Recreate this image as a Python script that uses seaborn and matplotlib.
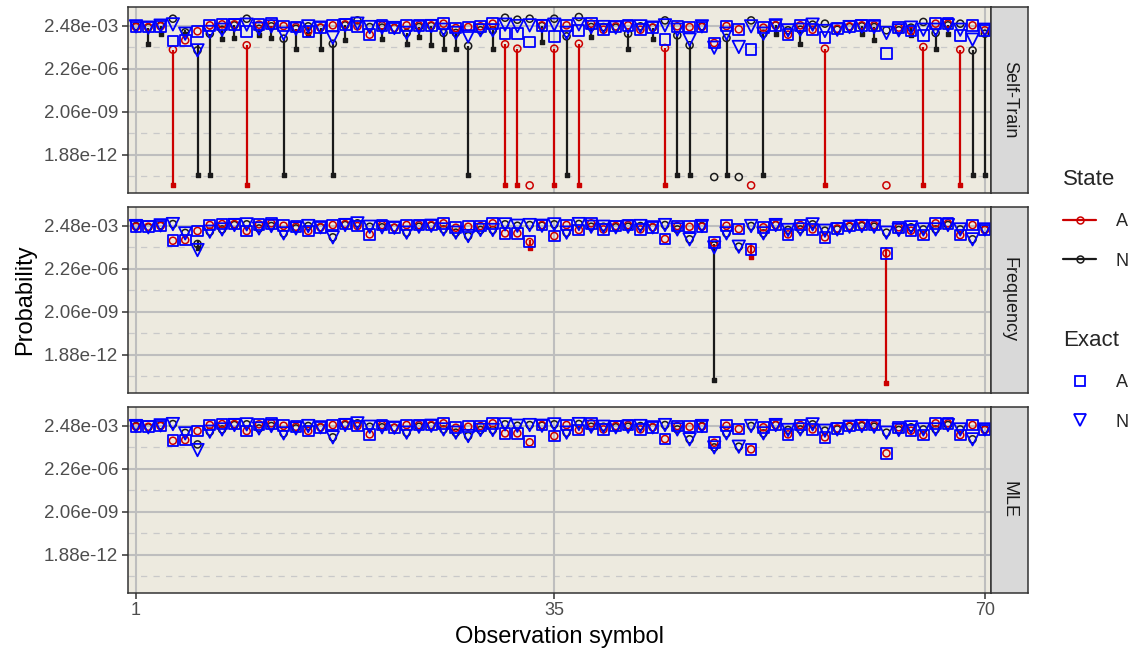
import numpy as np
import pandas as pd
import matplotlib
matplotlib.use("Agg")
import matplotlib.pyplot as plt
from matplotlib.lines import Line2D
from matplotlib.ticker import FixedLocator, NullFormatter
import seaborn as sns

# ---------------------------------------------------------------------------
# Data: log10 probabilities for each observation symbol (1..70)
# ---------------------------------------------------------------------------
obs = list(range(1, 71))

exact_A = [
    -2.68, -2.68, -2.63, -3.67, -3.62, -2.98, -2.56, -2.49, -2.49, -2.98,
    -2.51, -2.44, -2.61, -2.68, -2.98, -2.72, -2.56, -2.49, -2.63, -3.22,
    -2.56, -2.75, -2.56, -2.56, -2.56, -2.44, -2.75, -2.68, -2.63, -2.44,
    -3.15, -3.15, -3.74, -2.56, -3.34, -2.56, -2.91, -2.44, -2.87, -2.63,
    -2.56, -2.87, -2.72, -3.55, -2.63, -2.68, -2.68, -3.81, -2.61, -2.84,
    -4.28, -2.72, -2.56, -3.22, -2.56, -2.87, -3.43, -2.80, -2.63, -2.56,
    -2.56, -4.56, -2.72, -2.96, -3.27, -2.44, -2.44, -3.27, -2.56, -2.91]

exact_N = [
    -2.63, -2.72, -2.58, -2.49, -3.15, -4.33, -3.03, -2.87, -2.56, -2.51,
    -2.80, -2.63, -3.15, -2.80, -2.63, -2.72, -3.43, -2.56, -2.44, -2.68,
    -2.72, -2.75, -3.10, -2.68, -2.61, -2.87, -3.10, -3.34, -2.91, -2.91,
    -2.51, -2.61, -2.56, -2.61, -2.51, -3.10, -2.49, -2.68, -2.68, -2.72,
    -2.68, -2.63, -2.72, -2.56, -2.87, -3.57, -2.63, -4.14, -3.15, -4.09,
    -2.63, -3.15, -2.56, -2.91, -2.87, -2.51, -2.96, -2.87, -2.68, -2.63,
    -2.68, -3.10, -2.91, -2.72, -2.87, -2.87, -2.56, -2.87, -3.57, -2.87]

selftrain_A = [
    -2.68, -2.68, -2.63, -4.28, -3.62, -2.98, -2.56, -2.49, -2.49, -3.97,
    -2.51, -2.44, -2.61, -2.68, -2.98, -2.72, -2.56, -2.49, -2.63, -3.22,
    -2.56, -2.75, -2.56, -2.56, -2.56, -2.44, -2.75, -2.68, -2.63, -2.44,
    -3.90, -4.21, -13.88, -2.56, -4.21, -2.56, -3.86, -2.44, -2.87, -2.63,
    -2.56, -2.87, -2.72, -4.16, -2.63, -2.68, -2.68, -3.81, -2.61, -2.84,
    -13.88, -2.72, -2.56, -3.22, -2.56, -2.87, -4.21, -2.80, -2.63, -2.56,
    -2.56, -13.88, -2.72, -2.96, -4.09, -2.44, -2.44, -4.28, -2.56, -2.91]

selftrain_N = [
    -2.63, -2.72, -2.58, -2.09, -3.05, -4.33, -3.15, -2.87, -2.56, -2.09,
    -2.80, -2.63, -3.50, -2.80, -2.63, -2.72, -3.86, -2.56, -2.21, -2.68,
    -2.72, -2.75, -3.10, -2.68, -2.61, -3.10, -3.10, -4.02, -2.91, -2.91,
    -2.02, -2.16, -2.09, -2.61, -2.09, -3.34, -1.97, -2.68, -2.68, -2.72,
    -3.15, -2.63, -2.72, -2.21, -3.27, -3.97, -2.63, -13.29, -3.45, -13.29,
    -2.21, -3.15, -2.56, -2.91, -2.87, -2.51, -2.44, -2.87, -2.68, -2.63,
    -2.68, -2.91, -2.91, -2.72, -2.32, -3.10, -2.56, -2.44, -4.33, -3.15]

frequency_A = [
    -2.68, -2.68, -2.63, -3.67, -3.62, -2.98, -2.56, -2.49, -2.49, -2.98,
    -2.51, -2.44, -2.61, -2.68, -2.98, -2.72, -2.56, -2.49, -2.63, -3.22,
    -2.56, -2.75, -2.56, -2.56, -2.56, -2.44, -2.75, -2.68, -2.63, -2.44,
    -3.15, -3.15, -3.76, -2.56, -3.34, -2.56, -2.91, -2.44, -2.87, -2.63,
    -2.56, -2.87, -2.72, -3.55, -2.63, -2.68, -2.68, -3.81, -2.61, -2.84,
    -4.28, -2.72, -2.56, -3.22, -2.56, -2.87, -3.43, -2.80, -2.63, -2.56,
    -2.56, -4.56, -2.72, -2.96, -3.27, -2.44, -2.44, -3.27, -2.56, -2.91]

frequency_N = [
    -2.63, -2.72, -2.58, -2.49, -3.12, -3.90, -3.03, -2.87, -2.56, -2.51,
    -2.80, -2.63, -3.15, -2.80, -2.63, -2.72, -3.43, -2.56, -2.44, -2.68,
    -2.72, -2.75, -3.10, -2.68, -2.61, -2.87, -3.10, -3.34, -2.91, -2.91,
    -2.51, -2.61, -2.56, -2.61, -2.51, -3.10, -2.49, -2.68, -2.68, -2.72,
    -2.68, -2.63, -2.72, -2.56, -2.87, -3.57, -2.63, -4.00, -3.15, -4.09,
    -2.63, -3.15, -2.56, -2.91, -2.87, -2.51, -2.96, -2.87, -2.68, -2.63,
    -2.68, -3.10, -2.91, -2.72, -2.87, -2.87, -2.56, -2.87, -3.57, -2.87]

mle_A = [
    -2.68, -2.68, -2.63, -3.67, -3.62, -2.98, -2.56, -2.49, -2.49, -2.98,
    -2.51, -2.44, -2.61, -2.68, -2.98, -2.72, -2.56, -2.49, -2.63, -3.22,
    -2.56, -2.75, -2.56, -2.56, -2.56, -2.44, -2.75, -2.68, -2.63, -2.44,
    -3.15, -3.15, -3.78, -2.56, -3.34, -2.56, -2.91, -2.44, -2.87, -2.63,
    -2.56, -2.87, -2.72, -3.55, -2.63, -2.68, -2.68, -3.81, -2.61, -2.84,
    -4.28, -2.72, -2.56, -3.22, -2.56, -2.87, -3.43, -2.80, -2.63, -2.56,
    -2.56, -4.56, -2.72, -2.96, -3.27, -2.44, -2.44, -3.27, -2.56, -2.91]

mle_N = [
    -2.63, -2.72, -2.58, -2.49, -3.12, -3.93, -3.03, -2.87, -2.56, -2.51,
    -2.80, -2.63, -3.15, -2.80, -2.63, -2.72, -3.43, -2.56, -2.44, -2.68,
    -2.72, -2.75, -3.10, -2.68, -2.61, -2.87, -3.10, -3.34, -2.91, -2.91,
    -2.51, -2.61, -2.56, -2.61, -2.51, -3.10, -2.49, -2.68, -2.68, -2.72,
    -2.68, -2.63, -2.72, -2.56, -2.87, -3.57, -2.63, -4.14, -3.15, -4.09,
    -2.63, -3.15, -2.56, -2.91, -2.87, -2.51, -2.96, -2.87, -2.68, -2.63,
    -2.68, -3.10, -2.91, -2.72, -2.87, -2.87, -2.56, -2.87, -3.57, -2.87]

# Interval bounds (log10 low, log10 high) where they extend past the point
selftrain_A_ci = {
    4: (-13.88, -4.28), 10: (-13.88, -3.97), 31: (-13.88, -3.90),
    32: (-13.88, -4.21), 35: (-13.88, -4.21), 37: (-13.88, -3.86),
    44: (-13.88, -4.16), 57: (-13.88, -4.21), 65: (-13.88, -4.09),
    68: (-13.88, -4.28)}
selftrain_N_ci = {
    2: (-3.86, -2.72), 3: (-3.15, -2.58), 5: (-3.15, -2.90),
    6: (-13.17, -3.86), 7: (-13.17, -3.15), 8: (-3.50, -2.87),
    9: (-3.43, -2.56), 11: (-3.27, -2.80), 12: (-3.43, -2.63),
    13: (-13.17, -3.50), 14: (-4.21, -2.80), 15: (-3.15, -2.63),
    16: (-4.21, -2.72), 17: (-13.17, -3.86), 18: (-3.62, -2.56),
    21: (-3.50, -2.72), 23: (-3.90, -3.10), 24: (-3.38, -2.68),
    25: (-3.93, -2.61), 26: (-4.21, -3.10), 27: (-4.21, -3.10),
    28: (-13.17, -4.02), 30: (-4.21, -2.91), 34: (-3.74, -2.61),
    36: (-13.17, -3.34), 38: (-3.38, -2.68), 41: (-4.21, -3.15),
    43: (-3.50, -2.72), 45: (-13.17, -3.27), 46: (-13.17, -3.97),
    49: (-13.17, -3.45), 52: (-13.17, -3.15), 53: (-3.15, -2.56),
    55: (-3.86, -2.87), 60: (-3.15, -2.63), 61: (-3.57, -2.68),
    64: (-3.27, -2.72), 66: (-4.21, -3.10), 67: (-3.15, -2.56),
    69: (-13.17, -4.33), 70: (-13.17, -3.15)}
frequency_A_ci = {33: (-4.21, -3.65), 51: (-4.80, -3.86), 62: (-13.70, -4.09)}
frequency_N_ci = {6: (-4.21, -3.62), 48: (-13.50, -3.90)}
mle_A_ci = {}
mle_N_ci = {}

methods = ["Self-Train", "Frequency", "MLE"]
y_tick_values = [2.48e-03, 2.26e-06, 2.06e-09, 1.88e-12]
y_tick_labels = ["2.48e-03", "2.26e-06", "2.06e-09", "1.88e-12"]
x_tick_values = [1, 35, 70]

# ---------------------------------------------------------------------------
# Styling
# ---------------------------------------------------------------------------
sns.set_theme(style="ticks")
plt.rcParams["font.family"] = ["Liberation Sans", "DejaVu Sans"]

RED = "#CC0000"
BLACK = "#1A1A1A"
BLUE = "#0000FF"
PANEL_BG = "#EDEADF"
GRID = "#BEBEBE"
STRIP_BG = "#D9D9D9"
FRAME = "#333333"

W, H = 1136, 656
fig = plt.figure(figsize=(W / 100, H / 100), dpi=100)


def px_rect(x0, y0, x1, y1):
    return [x0 / W, 1 - y1 / H, (x1 - x0) / W, (y1 - y0) / H]


panel_rows = [(7, 193), (206.7, 392.7), (406.7, 592.7)]
x_left, x_right = 128, 991
strip_right = 1028

ratio = np.sqrt(y_tick_values[0] / y_tick_values[1])
minor_vals = [v / ratio for v in y_tick_values]

panel_data = {
    "Self-Train": (selftrain_A, selftrain_N, selftrain_A_ci, selftrain_N_ci),
    "Frequency": (frequency_A, frequency_N, frequency_A_ci, frequency_N_ci),
    "MLE": (mle_A, mle_N, mle_A_ci, mle_N_ci),
}

exact_df = pd.DataFrame({"obs": obs,
                         "A": np.power(10.0, exact_A),
                         "N": np.power(10.0, exact_N)})

axes = []
for i, (method, (top, bot)) in enumerate(zip(methods, panel_rows)):
    ax = fig.add_axes(px_rect(x_left, top, x_right, bot))
    axes.append(ax)
    ax.set_facecolor(PANEL_BG)
    ax.set_yscale("log")
    ax.set_ylim(10 ** -14.42, 10 ** -1.262)
    ax.set_xlim(0.35, 70.5)

    # grid
    for v in y_tick_values:
        ax.axhline(v, color=GRID, lw=1.5, zorder=0.5)
    for v in minor_vals:
        ax.axhline(v, color="#C9C9C9", lw=0.9, ls=(0, (5, 5)), zorder=0.5)
    for v in x_tick_values:
        ax.axvline(v, color=GRID, lw=1.5, zorder=0.5)

    est_A, est_N, ci_A, ci_N = panel_data[method]
    for est, ci, color in ((est_N, ci_N, BLACK), (est_A, ci_A, RED)):
        if ci:
            keys = sorted(ci)
            lo = np.power(10.0, [ci[k][0] for k in keys])
            hi = np.power(10.0, [ci[k][1] for k in keys])
            ax.vlines(keys, lo, hi, color=color, lw=1.6, zorder=3)
            ax.scatter(keys, lo, marker="s", s=5, color=color, zorder=3)
        df = pd.DataFrame({"obs": obs, "p": np.power(10.0, est)})
        sns.scatterplot(data=df, x="obs", y="p", ax=ax, marker="o", s=26,
                        facecolor="none", edgecolor=color, color=color,
                        linewidth=1.1, zorder=4, legend=False)

    sns.scatterplot(data=exact_df, x="obs", y="A", ax=ax, marker="s", s=60,
                    facecolor="none", edgecolor=BLUE, color=BLUE,
                    linewidth=1.3, zorder=5, legend=False)
    sns.scatterplot(data=exact_df, x="obs", y="N", ax=ax, marker="v", s=80,
                    facecolor="none", edgecolor=BLUE, color=BLUE,
                    linewidth=1.3, zorder=5, legend=False)

    ax.set_xlabel("")
    ax.set_ylabel("")
    ax.yaxis.set_major_locator(FixedLocator(y_tick_values))
    ax.set_yticklabels(y_tick_labels)
    ax.yaxis.set_minor_locator(FixedLocator(minor_vals))
    ax.yaxis.set_minor_formatter(NullFormatter())
    ax.tick_params(axis="y", which="minor", length=0)
    ax.tick_params(axis="y", which="major", length=4, width=1.1,
                   color=FRAME, labelsize=13.5, labelcolor="#4D4D4D", pad=3)
    ax.xaxis.set_major_locator(FixedLocator(x_tick_values))
    ax.xaxis.set_minor_locator(FixedLocator([]))
    if i < 2:
        ax.tick_params(axis="x", length=0, labelbottom=False)
    else:
        ax.tick_params(axis="x", length=4, width=1.1, color=FRAME,
                       labelsize=13, labelcolor="#4D4D4D", pad=3)
    for sp in ax.spines.values():
        sp.set_color(FRAME)
        sp.set_linewidth(1.1)
        sp.set_visible(True)

    # facet strip on the right
    sax = fig.add_axes(px_rect(x_right, top, strip_right, bot))
    sax.set_facecolor(STRIP_BG)
    sax.set_xticks([])
    sax.set_yticks([])
    for sp in sax.spines.values():
        sp.set_color(FRAME)
        sp.set_linewidth(1.1)
    sax.text(0.5, 0.5, method, rotation=270, ha="center", va="center",
             fontsize=13, color="#1A1A1A", transform=sax.transAxes)

fig.text(25 / W, 1 - 300 / H, "Probability", rotation=90, ha="center",
         va="center", fontsize=17, color="black")
fig.text((x_left + x_right) / 2 / W, 1 - 637 / H, "Observation symbol",
         ha="center", va="center", fontsize=17, color="black")

# legends
legend_kw = dict(loc="upper left", frameon=False, fontsize=13,
                 title_fontsize=16, handlelength=1.8, labelspacing=1.25,
                 handletextpad=1.1, borderpad=0.3, alignment="left")
state_handles = [
    Line2D([], [], color=RED, lw=1.6, marker="o", ms=5, mfc="none", mew=1.1),
    Line2D([], [], color=BLACK, lw=1.6, marker="o", ms=5, mfc="none", mew=1.1),
]
fig.legend(state_handles, ["A", "N"], title="State",
           bbox_to_anchor=(1049 / W, 1 - 155 / H), **legend_kw)
exact_handles = [
    Line2D([], [], color=BLUE, lw=0, marker="s", ms=7, mfc="none", mew=1.3),
    Line2D([], [], color=BLUE, lw=0, marker="v", ms=8, mfc="none", mew=1.3),
]
fig.legend(exact_handles, ["A", "N"], title="Exact",
           bbox_to_anchor=(1049 / W, 1 - 316 / H), **legend_kw)

fig.savefig("out.png", dpi=100)
